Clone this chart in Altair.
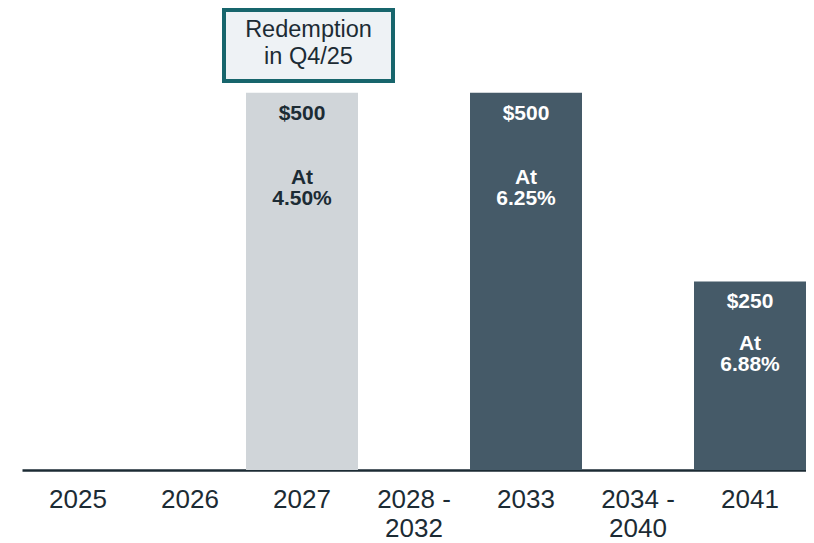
import altair as alt
import pandas as pd

# ---- data ----
categories = ["2025", "2026", "2027", "2028 - 2032", "2033", "2034 - 2040", "2041"]
amounts = [0, 0, 500, 0, 500, 0, 250]
value_labels = ["", "", "$500", "", "$500", "", "$250"]
rates = ["", "", "4.50%", "", "6.25%", "", "6.88%"]
status = ["None", "None", "Redeemed", "None", "Outstanding", "None", "Outstanding"]

note_lines = ["Redemption", "in Q4/25"]
note_category = "2027"
note_low, note_high, note_first_line = 515.7, 609.8, 583.3

FONT = "Liberation Sans"
LIGHT = "#d0d5d9"
DARK = "#455a68"
INK = "#1c2b34"
TEAL = "#17656c"

df = pd.DataFrame({
    "category": categories,
    "amount": amounts,
    "value_label": value_labels,
    "rate": rates,
    "status": status,
})
bars_df = df[df["amount"] > 0]

note_df = pd.DataFrame({
    "category": [note_category],
    "low": [note_low],
    "high": [note_high],
    "first": [note_first_line],
    "text": ["\n".join(note_lines)],
})

xscale = alt.Scale(domain=categories, paddingInner=0, paddingOuter=0)
yscale = alt.Scale(domain=[0, 612.5], nice=False, zero=True)

x_enc = alt.X(
    "category:N",
    scale=xscale,
    sort=categories,
    title=None,
    axis=alt.Axis(
        labelAngle=0,
        labelFont=FONT,
        labelFontSize=26,
        labelColor=INK,
        labelLineHeight=29,
        labelPadding=16,
        labelExpr="indexof(datum.label, ' - ') > 0 ? [split(datum.label, ' - ')[0] + ' -', split(datum.label, ' - ')[1]] : datum.label",
        ticks=False,
        grid=False,
        domain=True,
        domainColor=INK,
        domainWidth=2.5,
    ),
)

color_scale = alt.Scale(domain=["Redeemed", "Outstanding"], range=[LIGHT, DARK])
text_scale = alt.Scale(domain=["Redeemed", "Outstanding"], range=[INK, "#ffffff"])

bars = alt.Chart(bars_df).mark_bar().encode(
    x=x_enc,
    y=alt.Y("amount:Q", scale=yscale, axis=None),
    fill=alt.Fill("status:N", scale=color_scale, legend=None),
)

value_text = alt.Chart(bars_df).mark_text(
    font=FONT, fontSize=21, fontWeight="bold", baseline="middle", dy=21
).encode(
    x=alt.X("category:N", scale=xscale, sort=categories),
    y=alt.Y("amount:Q", scale=yscale),
    text="value_label:N",
    color=alt.Color("status:N", scale=text_scale, legend=None),
)

rate_base = alt.Chart(bars_df).transform_calculate(
    rate_text="'At\\n' + datum.rate"
)

rate_tall = rate_base.transform_filter("datum.amount >= 500").mark_text(
    font=FONT, fontSize=21, fontWeight="bold", baseline="middle",
    lineBreak="\n", lineHeight=21, dy=85
).encode(
    x=alt.X("category:N", scale=xscale, sort=categories),
    y=alt.Y("amount:Q", scale=yscale),
    text="rate_text:N",
    color=alt.Color("status:N", scale=text_scale, legend=None),
)

rate_short = rate_base.transform_filter("datum.amount < 500").mark_text(
    font=FONT, fontSize=21, fontWeight="bold", baseline="middle",
    lineBreak="\n", lineHeight=21, dy=63
).encode(
    x=alt.X("category:N", scale=xscale, sort=categories),
    y=alt.Y("amount:Q", scale=yscale),
    text="rate_text:N",
    color=alt.Color("status:N", scale=text_scale, legend=None),
)

note_box = alt.Chart(note_df).mark_bar(
    width=169, xOffset=6.5, fill="#eef2f5", stroke=TEAL, strokeWidth=4
).encode(
    x=alt.X("category:N", scale=xscale, sort=categories),
    y=alt.Y("low:Q", scale=yscale),
    y2="high:Q",
)

note_text = alt.Chart(note_df).mark_text(
    font=FONT, fontSize=23.5, color=INK, baseline="middle",
    lineBreak="\n", lineHeight=27, dx=6.5
).encode(
    x=alt.X("category:N", scale=xscale, sort=categories),
    y=alt.Y("first:Q", scale=yscale),
    text="text:N",
)

chart = alt.layer(
    bars, value_text, rate_tall, rate_short, note_box, note_text
).resolve_scale(
    color="independent"
).properties(
    width=784,
    height=462,
    padding={"left": 14, "top": 0, "right": 0, "bottom": 73},
    autosize=alt.AutoSizeParams(type="none"),
    background="#ffffff",
).configure_view(stroke=None)

chart.save("out.html", embed_options={"renderer": "svg", "actions": False})
